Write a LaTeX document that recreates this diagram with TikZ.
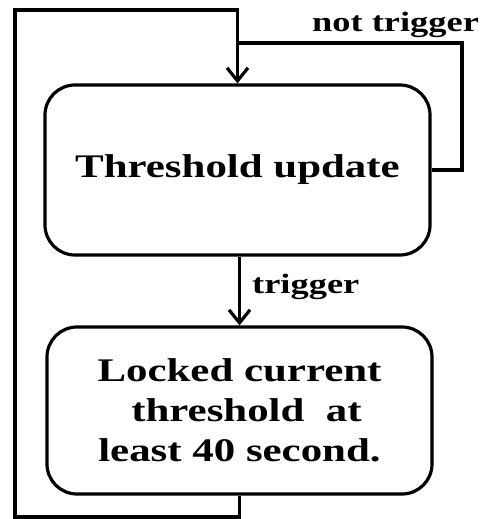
\documentclass[tikz,border=0pt]{standalone}
\usepackage{fontspec}
\setmainfont{Liberation Serif}
\newfontfamily\widefont[FakeStretch=1.3]{Liberation Serif}
\usetikzlibrary{arrows.meta}
\tikzset{
  box/.style={draw, line width=3.2pt, rounded corners=30pt, align=center,
    font=\widefont\bfseries\fontsize{33}{40}\selectfont, inner sep=0pt},
  conn/.style={draw, line width=3.2pt},
  arr/.style={-{Straight Barb[length=13pt,width=21pt]}},
  lbl/.style={font=\widefont\bfseries\fontsize{28}{32}\selectfont, inner sep=0pt}
}
\begin{document}
\begin{tikzpicture}[x=1pt,y=-1pt]
\useasboundingbox (0,0) rectangle (480,519);
\node[box, minimum width=385pt, minimum height=170pt] (b1) at (237.5,170) {Threshold update};
\node[box, minimum width=385pt, minimum height=167pt] (b2) at (239.5,410.5)
  {Locked current\\\hspace*{14pt}threshold\ \ at\\least 40 second.};
\coordinate (bl) at (15,517);
\coordinate (tl) at (15,10);
\coordinate (nt) at (462,43);
\draw[conn, arr] (b2.south) |- (bl) -- (tl) -| (b1.north);
\draw[conn] (b1.east) -| (nt) -- (b1.north |- nt);
\draw[conn, arr] (b2.north |- b1.south) -- (b2.north);
\node[lbl, anchor=base west] (t1) at (252,293) {trigger};
\node[lbl, anchor=base west] (t2) at (312,32) {not trigger};
\end{tikzpicture}
\end{document}
